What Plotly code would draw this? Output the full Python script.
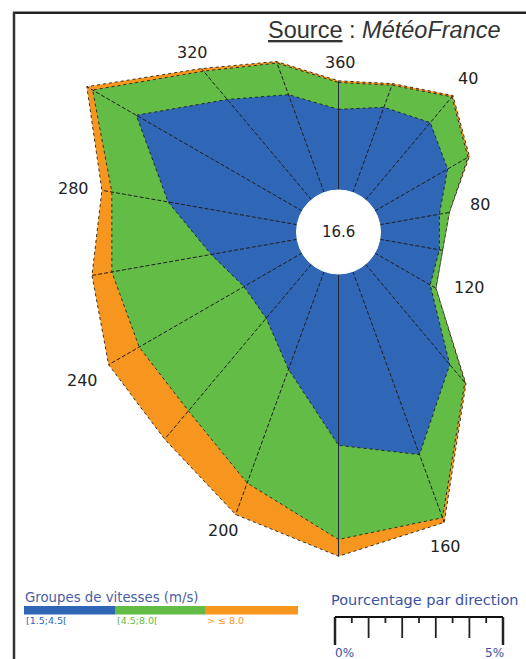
import numpy as np
import plotly.graph_objects as go

# ---- data ----
directions = [0, 20, 40, 60, 80, 100, 120, 140, 160, 180, 200, 220, 240, 260, 280, 300, 320, 340]
blue_pct = [2.4, 2.7, 3.0, 2.5, 1.8, 1.8, 1.9, 3.9, 5.8, 5.1, 3.1, 2.1, 2.0, 2.6, 3.9, 5.7, 3.9, 3.1]
green_pct = [0.8, 0.7, 1.0, 0.7, 0.3, 0.1, 0.2, 0.7, 2.0, 2.8, 3.6, 3.6, 3.6, 3.0, 1.7, 1.5, 1.1, 1.0]
orange_pct = [0.05, 0.05, 0.05, 0.05, 0.0, 0.0, 0.0, 0.05, 0.15, 0.5, 1.0, 1.1, 1.05, 0.6, 0.3, 0.2, 0.1, 0.05]
calm_pct = "16.6"
label_dirs = [40, 80, 120, 160, 200, 240, 280, 320, 360]
group_names = ["[1.5;4.5[", "[4.5;8.0[", "> \u2264 8.0"]
scale_labels = ["0%", "5%"]

# ---- styling ----
W, H = 526, 659
S = 33.6            # px per percent
CX, CY = 338.5, 232.0
HOLE = 42.0 / S     # hole radius in percent units
BLUE, GREEN, ORANGE = "#2f66b6", "#63bc46", "#f7961f"
cols = [BLUE, GREEN, ORANGE]
PAD = 0.8
# fine label nudges in px (dx right, dy down)
label_nudge = {360: (2, 9), 40: (-2, 4), 80: (4, -3), 120: (10, -14), 160: (-8, -1),
               200: (-3, -9), 240: (-3, 2), 280: (-2, 3), 320: (8, 5)}

th = np.radians(np.array(directions, dtype=float))
b = np.array(blue_pct)
g = b + np.array(green_pct)
o = g + np.array(orange_pct)


def xy(r, ang):
    return (HOLE + r) * np.sin(ang), (HOLE + r) * np.cos(ang)


fig = go.Figure()
for cum, c in [(o, ORANGE), (g, GREEN), (b, BLUE)]:
    x, y = xy(cum, th)
    fig.add_trace(go.Scatter(x=list(x) + [x[0]], y=list(y) + [y[0]], mode="lines",
                             fill="toself", fillcolor=c,
                             line=dict(color="rgba(25,25,25,0.85)", width=1, dash="dot"),
                             hoverinfo="skip", showlegend=False))

# spokes
sx, sy, vx, vy = [], [], [], []
for d, a, r in zip(directions, th, o):
    x0, y0 = xy(0.0, a)
    x1, y1 = xy(r, a)
    if d in (0, 180):
        vx += [x0, x1, None]; vy += [y0, y1, None]
    else:
        sx += [x0, x1, None]; sy += [y0, y1, None]
fig.add_trace(go.Scatter(x=sx, y=sy, mode="lines", line=dict(color="#1e1e1e", width=1, dash="4px,2px"),
                         hoverinfo="skip", showlegend=False))
fig.add_trace(go.Scatter(x=vx, y=vy, mode="lines", line=dict(color="#1e2a3a", width=1),
                         hoverinfo="skip", showlegend=False))

# hole
fig.add_shape(type="circle", x0=-HOLE, x1=HOLE, y0=-HOLE, y1=HOLE,
              fillcolor="white", line=dict(color="white", width=1), layer="above")
fig.add_annotation(x=0, y=0, text=calm_pct, showarrow=False,
                   font=dict(family="DejaVu Sans", size=15, color="#222"))

# direction labels
for ld in label_dirs:
    i = directions.index(ld % 360)
    a = np.radians(ld)
    lx, ly = xy(o[i] + PAD, a)
    ndx, ndy = label_nudge.get(ld, (0, 0))
    fig.add_annotation(x=lx + ndx / S, y=ly - ndy / S, text=str(ld), showarrow=False,
                       font=dict(family="DejaVu Sans", size=16, color="#222"))

# frame
def px(x):
    return x / W

def py(y):
    return 1 - y / H

fig.add_shape(type="line", xref="paper", yref="paper", x0=px(13), x1=px(526), y0=py(12.8), y1=py(12.8),
              line=dict(color="#222", width=2.5))
fig.add_shape(type="line", xref="paper", yref="paper", x0=px(14), x1=px(14), y0=py(12), y1=py(659),
              line=dict(color="#333", width=2.5))

# source
fig.add_annotation(xref="paper", yref="paper", x=px(503), y=py(30), xanchor="right", yanchor="middle",
                   text="<u>Source</u> : <i>MétéoFrance</i>", showarrow=False,
                   font=dict(family="Liberation Sans", size=23.5, color="#333"))

# speed-group legend
fig.add_annotation(xref="paper", yref="paper", x=px(23), y=py(597), xanchor="left", yanchor="middle",
                   text="Groupes de vitesses (m/s)", showarrow=False,
                   font=dict(family="DejaVu Sans", size=13.3, color="#4b5da6"))
bx = [24, 115, 205, 298]
for k in range(3):
    fig.add_shape(type="rect", xref="paper", yref="paper", x0=px(bx[k]), x1=px(bx[k + 1]),
                  y0=py(614.5), y1=py(606), fillcolor=cols[k], line=dict(width=0))
    fig.add_annotation(xref="paper", yref="paper", x=px(bx[k]), y=py(620.5), xanchor="left", yanchor="middle",
                       text=group_names[k], showarrow=False,
                       font=dict(family="DejaVu Sans", size=9.5, color=cols[k]))

# percentage scale (in data units)
fig.add_annotation(xref="paper", yref="paper", x=px(329), y=py(600), xanchor="left", yanchor="middle",
                   text="Pourcentage par direction", showarrow=False,
                   font=dict(family="DejaVu Sans", size=14.5, color="#3b52a2"))
rx0 = (335 - CX) / S
ry = -(617 - CY) / S
fig.add_shape(type="line", x0=rx0, x1=rx0 + 5, y0=ry, y1=ry, line=dict(color="#111", width=2))
for k in range(11):
    tx = rx0 + 0.5 * k
    if k in (0, 10):
        ln, wd = 28, 2.5
    elif k % 2 == 0:
        ln, wd = 21, 1.8
    else:
        ln, wd = 6, 1.8
    fig.add_shape(type="line", x0=tx, x1=tx, y0=ry, y1=ry - ln / S, line=dict(color="#222", width=wd))
fig.add_annotation(x=rx0 - 0.05, y=-(653 - CY) / S, xanchor="left", yanchor="middle", text=scale_labels[0],
                   showarrow=False, font=dict(family="DejaVu Sans", size=12, color="#3b52a2"))
fig.add_annotation(x=rx0 + 5.08, y=-(653 - CY) / S, xanchor="right", yanchor="middle", text=scale_labels[1],
                   showarrow=False, font=dict(family="DejaVu Sans", size=12, color="#3b52a2"))

fig.update_xaxes(range=[-CX / S, (W - CX) / S], visible=False, fixedrange=True)
fig.update_yaxes(range=[-(H - CY) / S, CY / S], visible=False, fixedrange=True)
fig.update_layout(width=W, height=H, margin=dict(l=0, r=0, t=0, b=0),
                  paper_bgcolor="white", plot_bgcolor="white", showlegend=False)
fig.write_html("out.html", config={"displayModeBar": False},
               post_script="document.body.style.margin='0px';document.body.style.overflow='hidden';")
